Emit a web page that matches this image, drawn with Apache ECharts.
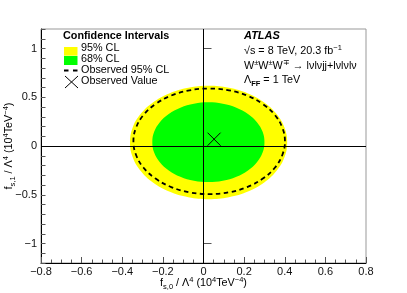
<!DOCTYPE html>
<html><head><meta charset="utf-8">
<script src="https://cdn.jsdelivr.net/npm/echarts@6/dist/echarts.min.js"></script>
<style>html,body{margin:0;padding:0;background:#fff}#c{width:407px;height:293px}</style>
</head><body><div id="c"></div>
<script>
// ---- data ----
const yMajorTicks = [-1, -0.5, 0, 0.5, 1];
const cl95 = [[0.412,0.036],[0.399,0.186],[0.360,0.327],[0.299,0.447],[0.219,0.539],[0.125,0.597],
  [0.025,0.617],[-0.075,0.597],[-0.169,0.539],[-0.249,0.447],[-0.310,0.327],[-0.349,0.186],
  [-0.362,0.036],[-0.349,-0.114],[-0.310,-0.255],[-0.249,-0.375],[-0.169,-0.467],[-0.075,-0.525],
  [0.025,-0.545],[0.125,-0.525],[0.219,-0.467],[0.299,-0.375],[0.360,-0.255],[0.399,-0.114]];
const cl68 = [[0.300,0.039],[0.291,0.145],[0.263,0.244],[0.219,0.328],[0.162,0.393],[0.095,0.434],
  [0.024,0.448],[-0.047,0.434],[-0.114,0.393],[-0.171,0.328],[-0.215,0.244],[-0.243,0.145],
  [-0.252,0.039],[-0.243,-0.067],[-0.215,-0.166],[-0.171,-0.250],[-0.114,-0.315],[-0.047,-0.356],
  [0.024,-0.370],[0.095,-0.356],[0.162,-0.315],[0.219,-0.250],[0.263,-0.166],[0.291,-0.067]];
const obs95 = [[0.401,0.048],[0.388,0.188],[0.351,0.319],[0.292,0.430],[0.215,0.517],[0.125,0.571],
  [0.028,0.589],[-0.069,0.571],[-0.159,0.517],[-0.236,0.430],[-0.295,0.319],[-0.332,0.188],
  [-0.345,0.048],[-0.332,-0.092],[-0.295,-0.223],[-0.236,-0.334],[-0.159,-0.421],[-0.069,-0.475],
  [0.028,-0.493],[0.125,-0.475],[0.215,-0.421],[0.292,-0.334],[0.351,-0.223],[0.388,-0.092]];
const observedValue = [[0.052, 0.07]];
const legendTitle = 'Confidence Intervals';
const legendLabels = ['95% CL', '68% CL', 'Observed 95% CL', 'Observed Value'];

const F = '"Liberation Sans", Arial, Helvetica, sans-serif';
const FS = 10.8;
const R = {
  n: {fontSize: FS, fontFamily: F, color: '#000', lineHeight: 15},
  b: {fontSize: FS, fontFamily: F, color: '#000', lineHeight: 15, fontWeight: 'bold'},
  sup: {fontSize: 7.5, fontFamily: F, color: '#000', lineHeight: 8, verticalAlign: 'top'},
  sub: {fontSize: 7.5, fontFamily: F, color: '#000', lineHeight: 8, verticalAlign: 'bottom'},
  subb: {fontSize: 7.5, fontFamily: F, color: '#000', lineHeight: 8, verticalAlign: 'bottom', fontWeight: 'bold'}
};
const minus = s => String(s).replace('-', '\u2212');

function contour(name, pts, style, z) {
  return {
    type: 'custom', name, data: pts, z, silent: true, encode: {x: 0, y: 1},
    renderItem: function (params, api) {
      if (params.dataIndex !== 0) return null;
      return {type: 'polygon', shape: {points: pts.map(p => api.coord(p)), smooth: 0.4}, style: style};
    }
  };
}

const chart = echarts.init(document.getElementById('c'), null, {renderer: 'canvas'});
function txt(x, y, text, extra) {
  return {type: 'text', z: 100, style: Object.assign({x, y, text, rich: R, verticalAlign: 'middle', textVerticalAlign: 'middle',
    fill: '#000', font: FS + 'px ' + F}, extra || {})};
}
chart.setOption({
  animation: false,
  grid: {left: 41, right: 41, top: 29, bottom: 30, show: true, borderColor: '#999', borderWidth: 1,
    containLabel: false, outerBoundsMode: 'none'},
  xAxis: {
    type: 'value', min: -0.8, max: 0.8, interval: 0.2,
    axisLine: {onZero: false, lineStyle: {color: '#000', width: 1}},
    axisTick: {inside: true, length: 6, lineStyle: {color: '#555'}},
    minorTick: {show: true, splitNumber: 4, length: 3.5, lineStyle: {color: '#555'}},
    splitLine: {show: false},
    axisLabel: {margin: 3, fontSize: 11, fontFamily: F, color: '#111',
      formatter: v => minus(+(+v).toFixed(1))},
    name: '{n|f}{sub|s,0}{n| / Λ}{sup|4}{n| (10}{sup|4}{n|TeV}{sup|\u22124}{n|)}',
    nameLocation: 'middle', nameGap: 13, nameMoveOverlap: false, nameTextStyle: {rich: R}
  },
  yAxis: [{
    type: 'value', min: -1.2, max: 1.2, interval: 0.1,
    axisLine: {onZero: false, lineStyle: {color: '#000', width: 1}},
    axisTick: {inside: true, length: 4.5, lineStyle: {color: '#555'}},
    axisLabel: {show: false}, splitLine: {show: false}
  }, {
    type: 'value', min: -1.2, max: 1.2, position: 'left',
    axisLine: {show: false},
    axisTick: {inside: true, length: 8, customValues: yMajorTicks, lineStyle: {color: '#555'}},
    axisLabel: {customValues: yMajorTicks, margin: 4, fontSize: 11, fontFamily: F, color: '#111',
      formatter: v => minus(+(+v).toFixed(1))},
    splitLine: {show: false},
    name: '{n|f}{sub|s,1}{n| / Λ}{sup|4}{n| (10}{sup|4}{n|TeV}{sup|\u22124}{n|)}',
    nameLocation: 'middle', nameGap: 24, nameMoveOverlap: false, nameTextStyle: {rich: R}
  }],
  series: [
    contour('95% CL', cl95, {fill: '#ffff00', stroke: 'none'}, 2),
    contour('68% CL', cl68, {fill: '#00ff00', stroke: 'none'}, 3),
    {
      type: 'custom', name: 'axes', data: [[0, 0]], z: 4, silent: true,
      renderItem: () => null,
      markLine: {silent: true, symbol: 'none', label: {show: false}, animation: false,
        lineStyle: {color: '#000', width: 1, type: 'solid'},
        data: [{xAxis: 0}, {yAxis: 0}]}
    },
    contour('Observed 95% CL', obs95, {fill: 'none', stroke: '#000', lineWidth: 1.8, lineDash: [4.5, 3.5]}, 5),
    {
      type: 'custom', name: 'Observed Value', data: observedValue, z: 6, silent: true, encode: {x: 0, y: 1},
      renderItem: function (params, api) {
        const c = api.coord([api.value(0), api.value(1)]);
        const h = 6.5;
        return {type: 'group', children: [
          {type: 'line', shape: {x1: c[0] - h, y1: c[1] - h, x2: c[0] + h, y2: c[1] + h}, style: {stroke: '#000', lineWidth: 1}},
          {type: 'line', shape: {x1: c[0] - h, y1: c[1] + h, x2: c[0] + h, y2: c[1] - h}, style: {stroke: '#000', lineWidth: 1}}
        ]};
      }
    }
  ],
  graphic: [
    txt(63, 36, '{b|' + legendTitle + '}'),
    {type: 'rect', z: 100, shape: {x: 64, y: 47, width: 13.5, height: 8.7}, style: {fill: '#ffff00'}},
    {type: 'rect', z: 100, shape: {x: 64, y: 56, width: 13.5, height: 9}, style: {fill: '#00ff00'}},
    txt(81, 48.5, '{n|' + legendLabels[0] + '}'),
    txt(81, 59, '{n|' + legendLabels[1] + '}'),
    txt(81, 70.5, '{n|' + legendLabels[2] + '}'),
    txt(81, 81.5, '{n|' + legendLabels[3] + '}'),
    {type: 'line', z: 100, shape: {x1: 64, y1: 70.5, x2: 78, y2: 70.5}, style: {stroke: '#000', lineWidth: 1.8, lineDash: [4.5, 4.5]}},
    {type: 'line', z: 100, shape: {x1: 65, y1: 76, x2: 78, y2: 88}, style: {stroke: '#000', lineWidth: 1}},
    {type: 'line', z: 100, shape: {x1: 65, y1: 88, x2: 78, y2: 76}, style: {stroke: '#000', lineWidth: 1}},
    txt(244, 36, 'ATLAS', {rich: null, font: 'italic bold 11px ' + F}),
    txt(244, 51, '{n|\u221As = 8 TeV, 20.3 fb}{sup|\u22121}'),
    txt(244, 66, '{n|W}{sup|\u00b1}{n|W}{sup|\u00b1}{n|W}{sup|\u2213}{n| \u2192 lνlνjj+lνlνlν}'),
    txt(244, 80, '{n|Λ}{subb|FF}{n| = 1 TeV}')
  ]
});
</script></body></html>
